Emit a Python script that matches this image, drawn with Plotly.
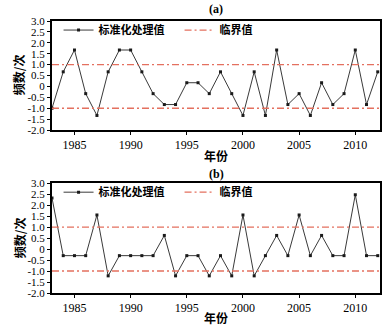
import plotly.graph_objects as go

years = list(range(1983, 2013))
series_a = [-1.0, 0.67, 1.67, -0.33, -1.33, 0.67, 1.67, 1.67, 0.67, -0.33,
            -0.83, -0.83, 0.17, 0.17, -0.33, 0.67, -0.33, -1.33, 0.67, -1.33,
            1.67, -0.83, -0.33, -1.33, 0.17, -0.83, -0.33, 1.67, -0.83, 0.67]
series_b = [2.32, -0.30, -0.30, -0.30, 1.55, -1.22, -0.30, -0.30, -0.30, -0.30,
            0.62, -1.22, -0.30, -0.30, -1.22, -0.30, -1.22, 1.55, -1.22, -0.30,
            0.62, -0.30, 1.55, -0.30, 0.62, -0.30, -0.30, 2.47, -0.30, -0.30]
critical = [1.0, -1.0]
x_ticks = [1985, 1990, 1995, 2000, 2005, 2010]
y_ticks = [3.0, 2.5, 2.0, 1.5, 1.0, 0.5, 0, -0.5, -1.0, -1.5, -2.0]
y_tick_text = ["3.0", "2.5", "2.0", "1.5", "1.0", "0.5", "0", "-0.5", "-1.0", "-1.5", "-2.0"]
x_range = [1983, 2012.2]

SERIF = "Liberation Serif, Times New Roman, serif"
CJK = "Noto Sans CJK SC"
CRIT_COLOR = "#e4705f"

fig = go.Figure()

panels = [("a", series_a, "x", "y", "legend"), ("b", series_b, "x2", "y2", "legend2")]
for name, vals, xa, ya, leg in panels:
    fig.add_trace(go.Scatter(
        x=years, y=vals, xaxis=xa, yaxis=ya, mode="lines+markers",
        name="标准化处理值", legend=leg,
        line=dict(color="#3a3a3a", width=1),
        marker=dict(color="#1a1a1a", size=3, symbol="square"),
    ))
    for i, c in enumerate(critical):
        fig.add_trace(go.Scatter(
            x=x_range, y=[c, c], xaxis=xa, yaxis=ya, mode="lines",
            name="临界值", legend=leg, legendgroup="crit" + name,
            showlegend=(i == 0),
            line=dict(color=CRIT_COLOR, width=1.3, dash="7px,3px,2px,3px"),
        ))

axis_common = dict(
    showline=True, linecolor="black", linewidth=2, mirror=True,
    ticks="outside", ticklen=3, tickwidth=1, tickcolor="black",
    showgrid=False, zeroline=False,
)
x_font = dict(family=SERIF, size=12, color="black")
y_font = dict(family=SERIF, size=11, color="black")

legend_common = dict(
    orientation="h", xanchor="left", yanchor="top", bgcolor="rgba(0,0,0,0)",
    font=dict(family=CJK, size=11, color="black", weight="bold"),
    itemwidth=30, tracegroupgap=0, entrywidth=76, entrywidthmode="pixels",
)

fig.update_layout(
    width=391, height=331,
    margin=dict(l=52, r=9, t=21, b=38),
    paper_bgcolor="white", plot_bgcolor="white",
    showlegend=True,
    xaxis=dict(domain=[0, 1], anchor="y", range=x_range, tickvals=x_ticks,
               tickfont=x_font, **axis_common),
    yaxis=dict(domain=[0.599, 1], anchor="x", range=[-2, 3], tickvals=y_ticks,
               ticktext=y_tick_text, tickfont=y_font, **axis_common),
    xaxis2=dict(domain=[0, 1], anchor="y2", range=x_range, tickvals=x_ticks,
                tickfont=x_font, **axis_common),
    yaxis2=dict(domain=[0, 0.404], anchor="x2", range=[-2, 3], tickvals=y_ticks,
                ticktext=y_tick_text, tickfont=y_font, **axis_common),
    legend=dict(x=0.02, y=1.02, **legend_common),
    legend2=dict(x=0.02, y=0.424, **legend_common),
)

titles = [("(a)", 9), ("(b)", 174)]
for txt, ypx in titles:
    fig.add_annotation(text=txt, xref="paper", yref="paper", x=0.5,
                       y=(331 - 38 - ypx) / 272, showarrow=False,
                       xanchor="center", yanchor="middle",
                       font=dict(family=SERIF, size=12, color="black", weight="bold"))
for ypx in (155, 317):
    fig.add_annotation(text="年份", xref="paper", yref="paper", x=0.5,
                       y=(331 - 38 - ypx) / 272, showarrow=False,
                       xanchor="center", yanchor="middle",
                       font=dict(family=CJK, size=12, color="black", weight="bold"))
for ycen in (75, 238):
    fig.add_annotation(text="频数/次", xref="paper", yref="paper",
                       x=(19 - 52) / 330, y=(331 - 38 - ycen) / 272,
                       showarrow=False, textangle=-90,
                       xanchor="center", yanchor="middle",
                       font=dict(family=CJK, size=12, color="black", weight="bold"))

fig.write_html("out.html")
